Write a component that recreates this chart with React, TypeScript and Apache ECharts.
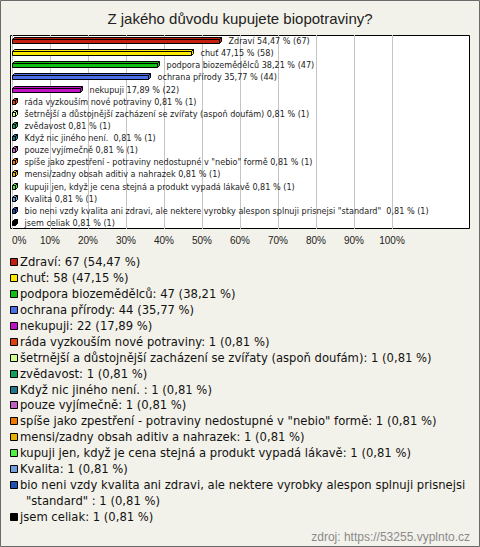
import React, { useEffect, useRef } from "react";
import * as echarts from "echarts";

const TITLE = "Z jakého důvodu kupujete biopotraviny?";
const SOURCE = "zdroj: https://53255.vyplnto.cz";

const categories: string[] = [
  "Zdraví",
  "chuť",
  "podpora biozemědělců",
  "ochrana přírody",
  "nekupuji",
  "ráda vyzkouším nové potraviny",
  "šetrnější a důstojnější zacházení se zvířaty (aspoň doufám)",
  "zvědavost",
  "Když nic jiného není. ",
  "pouze vyjímečně",
  "spíše jako zpestření - potraviny nedostupné v \"nebio\" formě",
  "mensi/zadny obsah aditiv a nahrazek",
  "kupuji jen, když je cena stejná a produkt vypadá lákavě",
  "Kvalita",
  "bio neni vzdy kvalita ani zdravi, ale nektere vyrobky alespon splnuji prisnejsi \"standard\" ",
  "jsem celiak",
];

const counts: number[] = [67, 58, 47, 44, 22, 1, 1, 1, 1, 1, 1, 1, 1, 1, 1, 1];

const percents: number[] = [
  54.47, 47.15, 38.21, 35.77, 17.89, 0.81, 0.81, 0.81, 0.81, 0.81, 0.81, 0.81,
  0.81, 0.81, 0.81, 0.81,
];

const colors: string[] = [
  "#c4200f",
  "#ffe800",
  "#10c010",
  "#4a6ee8",
  "#c010c8",
  "#e04010",
  "#d0ff90",
  "#10a060",
  "#207890",
  "#c060c0",
  "#f07800",
  "#e8b000",
  "#50f040",
  "#70a0e0",
  "#2050b0",
  "#000000",
];

const xTicks: number[] = [0, 10, 20, 30, 40, 50, 60, 70, 80, 90, 100];

const fmt = (p: number) => p.toFixed(2).replace(".", ",");

const FONT = "Liberation Sans";
const FONT2 = "DejaVu Sans";

// simple greedy word wrap by character count
function wrap(text: string, maxChars: number): string[] {
  const words = text.split(" ");
  const lines: string[] = [];
  let cur = "";
  words.forEach((w, k) => {
    const cand = k === 0 ? w : cur + " " + w;
    if (cand.length > maxChars && cur.length > 0) {
      lines.push(cur);
      cur = w;
    } else {
      cur = cand;
    }
  });
  lines.push(cur);
  return lines;
}

export default function App() {
  const ref = useRef<HTMLDivElement>(null);

  useEffect(() => {
    if (!ref.current) return;
    const chart = echarts.init(ref.current, null, { renderer: "svg" });

    const gridLeft = 12;
    const gridTop = 35;
    const gridWidth = 380;
    const gridHeight = 194;

    const legendChildren: any[] = [];
    let line = 0;
    const lh = 15.94;
    const firstCenter = 262;
    categories.forEach((name, i) => {
      const cy = firstCenter + line * lh;
      legendChildren.push({
        type: "rect",
        shape: { x: 10.5, y: Math.round(cy - 4) + 0.5, width: 7, height: 7 },
        style: { fill: colors[i], stroke: "#000", lineWidth: 1 },
      });
      const lines = wrap(`${name}: ${counts[i]} (${fmt(percents[i])} %)`, 82);
      lines.forEach((t, k) => {
        legendChildren.push({
          type: "text",
          x: k === 0 ? 20 : 26,
          y: cy + k * lh,
          style: {
            text: t,
            fontSize: 11.6,
            fontFamily: FONT2,
            fill: "#111",
            verticalAlign: "middle",
          },
        });
      });
      line += lines.length;
    });

    const option: any = {
      animation: false,
      backgroundColor: "#f3f2ea",
      title: {
        text: TITLE,
        left: "center",
        top: 11,
        padding: 0,
        textStyle: {
          fontSize: 15,
          fontWeight: "normal",
          color: "#222",
          fontFamily: FONT,
        },
      },
      grid: {
        left: gridLeft,
        top: gridTop,
        width: gridWidth,
        height: gridHeight,
        containLabel: false,
      },
      xAxis: {
        type: "value",
        min: xTicks[0],
        max: xTicks[xTicks.length - 1],
        interval: 10,
        axisLine: { show: false },
        axisTick: { show: false },
        splitLine: { show: true, lineStyle: { color: "#c4c4c4", width: 1 } },
        axisLabel: {
          show: true,
          margin: 6,
          fontSize: 10,
          color: "#222",
          fontFamily: FONT,
          alignMinLabel: "left",
          formatter: (v: number) => `${v}%`,
        },
      },
      yAxis: {
        type: "category",
        data: categories,
        inverse: true,
        show: false,
      },
      graphic: [
        {
          type: "rect",
          z: -10,
          shape: { x: 0.5, y: 0.5, width: 479, height: 546 },
          style: { fill: "#f3f2ea", stroke: "#6a6a6a", lineWidth: 1 },
        },
        {
          type: "rect",
          z: -5,
          shape: { x: 10.5, y: 35.5, width: 459, height: 193 },
          style: { fill: "#ffffff", stroke: "#000", lineWidth: 1 },
        },
        ...legendChildren,
        {
          type: "text",
          x: 470,
          y: 537,
          style: {
            text: SOURCE,
            fontSize: 12,
            fontFamily: FONT,
            fill: "#8a8a8a",
            align: "right",
            verticalAlign: "middle",
          },
        },
      ],
      series: [
        {
          type: "custom",
          name: "odpovědi",
          clip: false,
          data: percents.map((p, i) => [p, i]),
          renderItem: (params: any, api: any) => {
            const i = params.dataIndex;
            const v = api.value(0);
            const idx = api.value(1);
            const s = api.coord([0, idx]);
            const e = api.coord([v, idx]);
            const c = Math.round(s[1]);
            const x0 = Math.round(s[0]) + 0.5;
            const x1 = Math.max(Math.round(e[0]) + 0.5, x0 + 3);
            const d = 2;
            const top = c - 1.5;
            const bot = c + 2.5;
            const col = colors[i];
            return {
              type: "group",
              children: [
                {
                  type: "polygon",
                  shape: {
                    points: [
                      [x0, top],
                      [x0 + d, top - d],
                      [x1 + d, top - d],
                      [x1, top],
                    ],
                  },
                  style: { fill: col, stroke: "#000", lineWidth: 1 },
                },
                {
                  type: "polygon",
                  shape: {
                    points: [
                      [x1, top],
                      [x1 + d, top - d],
                      [x1 + d, bot - d],
                      [x1, bot],
                    ],
                  },
                  style: { fill: col, stroke: "#000", lineWidth: 1 },
                },
                {
                  type: "rect",
                  shape: { x: x0, y: top, width: x1 - x0, height: bot - top },
                  style: { fill: col, stroke: "#000", lineWidth: 1 },
                },
                {
                  type: "text",
                  x: x1 + d + 7,
                  y: c,
                  style: {
                    text: `${categories[i]} ${fmt(percents[i])} % (${counts[i]})`,
                    fontSize: 8.1,
                    fontFamily: FONT2,
                    fill: "#222",
                    verticalAlign: "middle",
                    align: "left",
                  },
                },
              ],
            };
          },
        },
      ],
    };

    chart.setOption(option);
    return () => chart.dispose();
  }, []);

  return (
    <div
      ref={ref}
      style={{ position: "absolute", left: 0, top: 0, width: 480, height: 547 }}
    />
  );
}
